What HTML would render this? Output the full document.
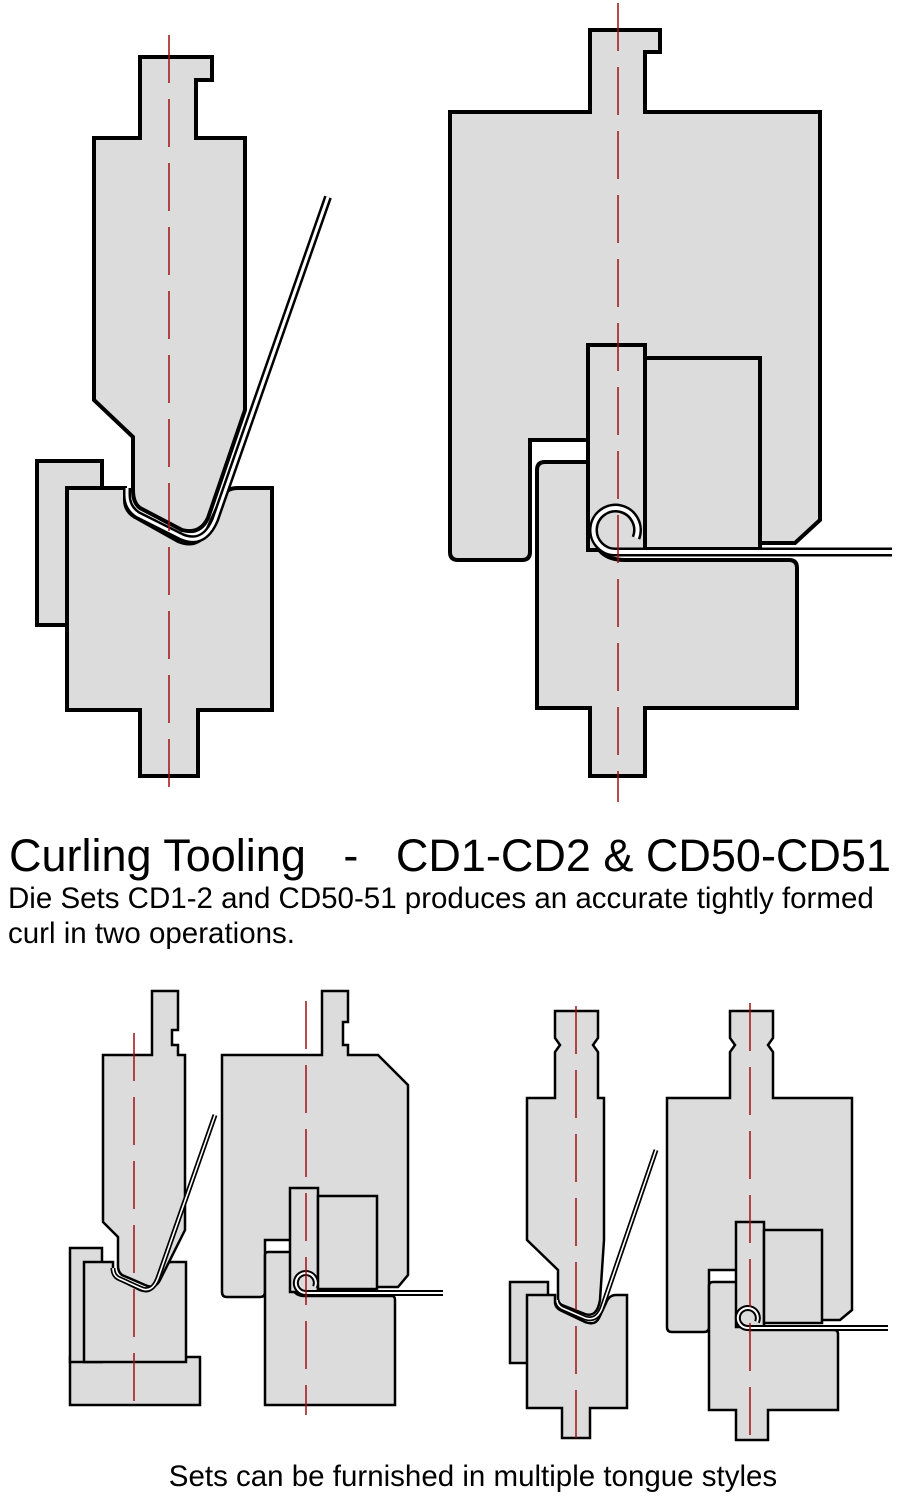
<!DOCTYPE html>
<html><head><meta charset="utf-8"><style>
body{margin:0;background:#fff;width:923px;height:1500px;overflow:hidden;font-family:"Liberation Sans",Arial,sans-serif}
svg{position:absolute;left:0;top:0}
.t{position:absolute;color:#000;white-space:pre}
</style></head><body>
<svg width="923" height="1500" viewBox="0 0 923 1500">
<g fill="#dcdcdc" stroke="#000" stroke-width="4" stroke-linejoin="miter">
<rect x="37" y="461" width="65" height="164"/>
<path d="M67,488 H125 V500 Q125,512 137,518 L178,541 Q195,548 205,535 L222,497 Q226,488 238,488 H272 V710 H198 V776 H140 V710 H67 Z"/>
<path d="M140,57 H212 V80 H196 V138 H245 V410 L208,518 Q200,535 182,530 L140,508 Q133,503 133,490 V437 L94,400 V138 H140 Z"/>
<path d="M590,30 H660 V52 H645 V112 H820 V520 L795,543 H640 V440 H530 V552 Q530,560 522,560 H458 Q450,560 450,552 V112 H590 Z"/>
<path d="M545,462 H592 V530 Q595,560 625,560 H789 Q797,560 797,568 V708 H645 V776 H590 V708 H537 V470 Q537,462 545,462 Z"/>
<rect x="588" y="345" width="57" height="205"/>
<rect x="645" y="358" width="115" height="191"/>
</g>
<g fill="none" stroke-linecap="butt">
<path d="M328,197 L215,520 Q204,546 182,537 L138,515 Q127,508 127,495 V488" stroke="#000" stroke-width="8"/>
<path d="M328,197 L215,520 Q204,546 182,537 L138,515 Q127,508 127,495 V488" stroke="#fff" stroke-width="3"/>
<path d="M892,552 H617 A22,22 0 1 1 636,538" stroke="#000" stroke-width="9"/>
<path d="M892,552 H617 A22,22 0 1 1 636,538" stroke="#fff" stroke-width="4"/>
</g>
<g fill="#dcdcdc" stroke="#000" stroke-width="2.5">
<rect x="70" y="1357" width="130" height="48"/>
<rect x="70" y="1248" width="32" height="114"/>
<path d="M84,1262 H113 V1270 Q113,1276 120,1280 L140,1290 Q150,1294 155,1285 L162,1270 Q165,1262 172,1262 H186 V1362 H84 Z"/>
<path d="M152,991 H178 V1030 H172 V1045 H178 V1055 H185 V1230 L160,1280 Q155,1290 145,1285 L122,1275 Q118,1272 118,1266 V1237 L103,1222 V1055 H152 Z"/>
<path d="M322,991 H348 V1022 H343 V1045 H348 V1055 H378 L408,1085 V1275 L398,1287 H320 V1240 H265 V1292 Q265,1297 260,1297 H227 Q222,1297 222,1292 V1055 H322 Z"/>
<path d="M268,1252 H292 V1285 Q293,1296 305,1296 H392 Q395,1296 395,1300 V1405 H265 V1255 Q265,1252 268,1252 Z"/>
<rect x="290" y="1188" width="28" height="104"/>
<rect x="318" y="1196" width="59" height="93"/>
<rect x="510" y="1282" width="38" height="81"/>
<path d="M527,1295 H555 V1302 Q555,1308 562,1311 L585,1322 Q595,1326 599,1318 L606,1303 Q609,1295 616,1295 H627 V1408 H590 V1438 H562 V1408 H527 Z"/>
<path d="M555,1011 H598 V1038 L593,1045 L598,1052 V1098 H604 V1240 L600,1300 Q597,1318 585,1314 L562,1305 Q558,1303 558,1298 V1270 L527,1240 V1098 H555 V1052 L560,1045 L555,1038 Z"/>
<path d="M730,1011 H773 V1038 L768,1045 L773,1052 V1098 H852 V1310 L840,1320 H760 V1270 H709 V1327 Q709,1332 704,1332 H672 Q667,1332 667,1327 V1098 H730 V1052 L735,1045 L730,1038 Z"/>
<path d="M713,1282 H738 V1318 Q738,1330 750,1330 H834 Q838,1330 838,1334 V1410 H768 V1440 H736 V1410 H709 V1286 Q709,1282 713,1282 Z"/>
<rect x="736" y="1222" width="28" height="105"/>
<rect x="764" y="1230" width="58" height="93"/>
</g>
<g fill="none">
<path d="M215,1115 L158,1278 Q152,1294 140,1288 L118,1278 Q113,1275 113,1268" stroke="#000" stroke-width="5"/>
<path d="M215,1115 L158,1278 Q152,1294 140,1288 L118,1278 Q113,1275 113,1268" stroke="#fff" stroke-width="1.6"/>
<path d="M443,1293 H306 A10,10 0 1 1 315,1287" stroke="#000" stroke-width="6"/>
<path d="M443,1293 H306 A10,10 0 1 1 315,1287" stroke="#fff" stroke-width="2"/>
<path d="M656,1150 L603,1305 Q598,1322 585,1318 L562,1308 Q557,1305 557,1300" stroke="#000" stroke-width="5"/>
<path d="M656,1150 L603,1305 Q598,1322 585,1318 L562,1308 Q557,1305 557,1300" stroke="#fff" stroke-width="1.6"/>
<path d="M888,1328 H748 A10,10 0 1 1 757,1322" stroke="#000" stroke-width="6"/>
<path d="M888,1328 H748 A10,10 0 1 1 757,1322" stroke="#fff" stroke-width="2"/>
</g>
<g stroke="#a01010" stroke-width="1.5" fill="none" stroke-dasharray="48 16">
<line x1="169" y1="35" x2="169" y2="802"/>
<line x1="618" y1="3" x2="618" y2="802"/>
<line x1="134" y1="1033" x2="134" y2="1415"/>
<line x1="306" y1="1001" x2="306" y2="1415"/>
<line x1="576" y1="1006" x2="576" y2="1450"/>
<line x1="750" y1="1003" x2="750" y2="1450"/>
</g>
</svg>
<div class="t" style="left:9px;top:830px;font-size:45px">Curling Tooling   -   CD1-CD2 &amp; CD50-CD51</div>
<div class="t" style="left:8px;top:881px;font-size:29.5px;line-height:35px">Die Sets CD1-2 and CD50-51 produces an accurate tightly formed
curl in two operations.</div>
<div class="t" style="left:0;width:946px;text-align:center;top:1460px;font-size:29.5px">Sets can be furnished in multiple tongue styles</div>
</body></html>
